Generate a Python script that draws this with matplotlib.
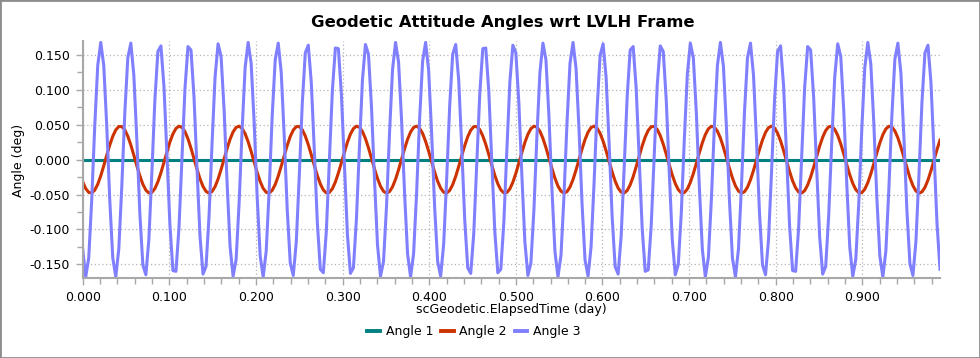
import numpy as np
import matplotlib
matplotlib.use("Agg")
from matplotlib import pyplot as plt
from matplotlib.patches import Rectangle
from matplotlib.ticker import MultipleLocator, FormatStrFormatter

# samples every 5 minutes, values in deg
step_min = 5

angle3 = [
    -0.128, -0.168, -0.141, -0.058, 0.048, 0.135, 0.168, 0.135, 0.048, -0.058,
    -0.141, -0.168, -0.128, -0.038, 0.067, 0.146, 0.167, 0.121, 0.028, -0.077,
    -0.151, -0.165, -0.114, -0.018, 0.086, 0.155, 0.163, 0.106, 0.008, -0.094,
    -0.159, -0.160, -0.098, 0.003, 0.102, 0.162, 0.157, 0.090, -0.013, -0.110,
    -0.164, -0.153, -0.081, 0.023, 0.118, 0.166, 0.148, 0.072, -0.033, -0.125,
    -0.167, -0.143, -0.062, 0.043, 0.132, 0.168, 0.138, 0.053, -0.053, -0.138,
    -0.168, -0.131, -0.043, 0.063, 0.143, 0.167, 0.125, 0.033, -0.072, -0.148,
    -0.166, -0.118, -0.023, 0.081, 0.153, 0.164, 0.110, 0.013, -0.090, -0.157,
    -0.162, -0.102, -0.002, 0.099, 0.160, 0.159, 0.094, -0.008, -0.107, -0.163,
    -0.155, -0.085, 0.018, 0.114, 0.165, 0.151, 0.076, -0.028, -0.122, -0.167,
    -0.146, -0.067, 0.038, 0.129, 0.168, 0.140, 0.057, -0.048, -0.135, -0.168,
    -0.135, -0.048, 0.058, 0.141, 0.168, 0.128, 0.038, -0.068, -0.146, -0.167,
    -0.121, -0.028, 0.077, 0.151, 0.165, 0.114, 0.018, -0.086, -0.155, -0.163,
    -0.106, -0.007, 0.094, 0.159, 0.160, 0.098, -0.003, -0.103, -0.162, -0.157,
    -0.090, 0.013, 0.111, 0.164, 0.153, 0.081, -0.023, -0.118, -0.166, -0.148,
    -0.072, 0.034, 0.125, 0.167, 0.143, 0.062, -0.043, -0.132, -0.168, -0.137,
    -0.052, 0.053, 0.138, 0.168, 0.131, 0.043, -0.063, -0.144, -0.167, -0.125,
    -0.033, 0.072, 0.149, 0.166, 0.118, 0.023, -0.081, -0.153, -0.164, -0.110,
    -0.012, 0.090, 0.157, 0.162, 0.102, 0.002, -0.099, -0.160, -0.158, -0.094,
    0.008, 0.107, 0.163, 0.155, 0.085, -0.018, -0.115, -0.165, -0.150, -0.076,
    0.029, 0.122, 0.167, 0.146, 0.067, -0.039, -0.129, -0.168, -0.140, -0.057,
    0.049, 0.135, 0.168, 0.134, 0.047, -0.058, -0.141, -0.168, -0.128, -0.038,
    0.068, 0.146, 0.167, 0.121, 0.027, -0.077, -0.151, -0.165, -0.114, -0.017,
    0.086, 0.155, 0.163, 0.106, 0.007, -0.095, -0.159, -0.160, -0.098, 0.003,
    0.103, 0.162, 0.157, 0.089, -0.013, -0.111, -0.164, -0.153, -0.080, 0.024,
    0.118, 0.166, 0.148, 0.071, -0.034, -0.125, -0.167, -0.143, -0.062, 0.044,
    0.132, 0.168, 0.137, 0.052, -0.054, -0.138, -0.168, -0.131, -0.042, 0.063,
    0.144, 0.167, 0.124, 0.032, -0.073, -0.149, -0.166, -0.117, -0.022, 0.082,
    0.153, 0.164, 0.110, 0.012, -0.091, -0.157,
]

angle2 = [
    -0.0317, -0.0414, -0.0469, -0.0477, -0.0437, -0.0352, -0.0232, -0.0088, 0.0064, 0.0210,
    0.0335, 0.0426, 0.0474, 0.0474, 0.0426, 0.0335, 0.0210, 0.0064, -0.0088, -0.0232,
    -0.0352, -0.0437, -0.0477, -0.0469, -0.0414, -0.0317, -0.0188, -0.0039, 0.0113, 0.0254,
    0.0369, 0.0447, 0.0479, 0.0463, 0.0401, 0.0298, 0.0164, 0.0014, -0.0137, -0.0275,
    -0.0384, -0.0455, -0.0480, -0.0457, -0.0387, -0.0278, -0.0141, 0.0010, 0.0160, 0.0294,
    0.0398, 0.0462, 0.0479, 0.0448, 0.0371, 0.0257, 0.0117, -0.0035, -0.0184, -0.0314,
    -0.0412, -0.0468, -0.0478, -0.0439, -0.0356, -0.0236, -0.0093, 0.0059, 0.0206, 0.0332,
    0.0424, 0.0473, 0.0475, 0.0428, 0.0338, 0.0214, 0.0068, -0.0084, -0.0228, -0.0349,
    -0.0435, -0.0477, -0.0470, -0.0416, -0.0320, -0.0191, -0.0043, 0.0109, 0.0250, 0.0366,
    0.0445, 0.0479, 0.0465, 0.0403, 0.0301, 0.0169, 0.0019, -0.0132, -0.0270, -0.0381,
    -0.0454, -0.0480, -0.0458, -0.0389, -0.0281, -0.0145, 0.0006, 0.0156, 0.0291, 0.0396,
    0.0461, 0.0480, 0.0450, 0.0375, 0.0261, 0.0122, -0.0030, -0.0179, -0.0310, -0.0409,
    -0.0467, -0.0478, -0.0441, -0.0358, -0.0240, -0.0097, 0.0055, 0.0202, 0.0329, 0.0422,
    0.0472, 0.0475, 0.0430, 0.0341, 0.0218, 0.0073, -0.0080, -0.0225, -0.0346, -0.0433,
    -0.0476, -0.0471, -0.0419, -0.0324, -0.0196, -0.0049, 0.0104, 0.0246, 0.0363, 0.0443,
    0.0479, 0.0466, 0.0406, 0.0305, 0.0173, 0.0023, -0.0128, -0.0267, -0.0379, -0.0452,
    -0.0480, -0.0459, -0.0392, -0.0285, -0.0149, 0.0002, 0.0152, 0.0288, 0.0394, 0.0460,
    0.0480, 0.0451, 0.0377, 0.0265, 0.0126, -0.0026, -0.0175, -0.0307, -0.0407, -0.0466,
    -0.0478, -0.0442, -0.0361, -0.0244, -0.0101, 0.0051, 0.0198, 0.0325, 0.0419, 0.0472,
    0.0476, 0.0432, 0.0345, 0.0222, 0.0078, -0.0075, -0.0220, -0.0343, -0.0431, -0.0476,
    -0.0472, -0.0421, -0.0327, -0.0200, -0.0053, 0.0100, 0.0242, 0.0360, 0.0442, 0.0478,
    0.0467, 0.0408, 0.0309, 0.0177, 0.0028, -0.0123, -0.0263, -0.0376, -0.0450, -0.0480,
    -0.0460, -0.0395, -0.0289, -0.0154, -0.0003, 0.0148, 0.0283, 0.0391, 0.0459, 0.0480,
    0.0453, 0.0380, 0.0268, 0.0130, -0.0022, -0.0171, -0.0303, -0.0404, -0.0465, -0.0479,
    -0.0444, -0.0364, -0.0248, -0.0106, 0.0046, 0.0194, 0.0322, 0.0417, 0.0471, 0.0476,
    0.0434, 0.0348, 0.0226, 0.0082, -0.0071, -0.0216, -0.0340, -0.0429, -0.0475, -0.0473,
    -0.0423, -0.0330, -0.0204, -0.0057, 0.0096, 0.0239, 0.0357, 0.0440, 0.0478, 0.0468,
    0.0411, 0.0312, 0.0181, 0.0033, -0.0119, -0.0259, -0.0373, -0.0449, -0.0480, -0.0462,
    -0.0397, -0.0292, -0.0158, -0.0008, 0.0144, 0.0280,
]

# Angle 1 sits on zero the whole time
angle1 = [0.0] * len(angle3)

labels = ["Angle 1", "Angle 2", "Angle 3"]
colors = ["#008080", "#cc3300", "#8080ff"]

t = np.arange(len(angle3)) * step_min / 1440.0

W, H = 980, 358
fig = plt.figure(figsize=(W / 100, H / 100), dpi=100)
plt.rcParams["font.family"] = ["DejaVu Sans"]

# plot area in pixel terms
x0, x1, y0, y1 = 82.7, 940.0, 41.0, 278.3
ax = fig.add_axes([x0 / W, 1 - y1 / H, (x1 - x0) / W, (y1 - y0) / H])

handles = []
for ys, lab, c in zip([angle1, angle2, angle3], labels, colors):
    h, = ax.plot(t, ys, color=c, lw=2.2, label=lab, solid_joinstyle="round")
    handles.append(h)

ax.set_xlim(0, t[-1])
ax.set_ylim(-0.17, 0.17)

ax.xaxis.set_major_locator(MultipleLocator(0.1))
ax.xaxis.set_minor_locator(MultipleLocator(0.02))
ax.yaxis.set_major_locator(MultipleLocator(0.05))
ax.yaxis.set_minor_locator(MultipleLocator(0.025))
ax.xaxis.set_major_formatter(FormatStrFormatter("%.3f"))
ax.yaxis.set_major_formatter(FormatStrFormatter("%.3f"))

ax.grid(True, which="major", color="#b4b4b4", lw=0.9, ls=(0, (1, 2)))
ax.set_axisbelow(True)

for s in ["top", "right"]:
    ax.spines[s].set_visible(False)
for s in ["left", "bottom"]:
    ax.spines[s].set_color("#a8a8a8")
    ax.spines[s].set_linewidth(1.5)

ax.tick_params(which="both", color="#a8a8a8", labelsize=9, labelcolor="black")
ax.tick_params(which="major", length=5, width=1, pad=4)
ax.tick_params(which="minor", length=4, width=1)

fig.text(502.5 / W, 1 - 22.7 / H, "Geodetic Attitude Angles wrt LVLH Frame",
         ha="center", va="center", fontsize=11.8, fontweight="bold")
fig.text((x0 + x1) / 2 / W, 1 - 309 / H, "scGeodetic.ElapsedTime (day)",
         ha="center", va="center", fontsize=9)
fig.text(18.3 / W, 1 - 160 / H, "Angle (deg)", rotation=90,
         ha="center", va="center", fontsize=9)

leg = fig.legend(handles=handles, loc="center", bbox_to_anchor=(474 / W, 1 - 331.7 / H),
                 ncol=3, frameon=False, fontsize=9, handlelength=1.0,
                 handletextpad=0.45, columnspacing=0.65)
for lh in leg.get_lines():
    lh.set_linewidth(2.8)

# thin grey frame round the whole picture
fig.patches.append(Rectangle((0, 0), 1, 1, transform=fig.transFigure, fill=False,
                             edgecolor="#8c8c8c", lw=2))

fig.savefig("out.png", dpi=100)
